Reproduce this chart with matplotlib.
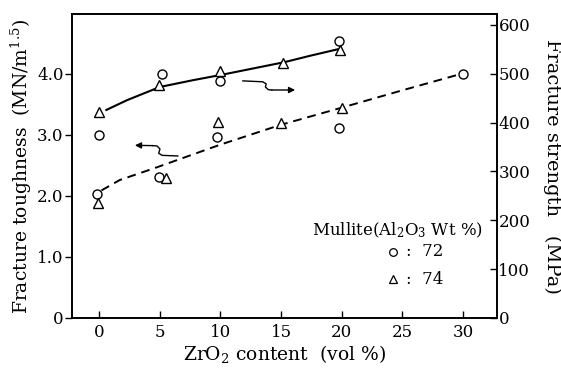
import matplotlib
matplotlib.use('Agg')
import matplotlib.pyplot as plt

plt.rcParams['font.family'] = 'DejaVu Serif'
plt.rcParams['mathtext.fontset'] = 'dejavuserif'

# fracture strength (MPa), right axis
x_str_72 = [0.0, 5.2, 10.0, 19.8]
str_72 = [375, 500, 485, 567]
x_str_74 = [0.0, 4.9, 10.0, 15.2, 19.9]
str_74 = [422, 477, 506, 522, 549]

# fracture toughness (MN/m^1.5), left axis
x_kic_72 = [-0.2, 4.9, 9.7, 19.8, 30.0]
kic_72 = [2.03, 2.31, 2.97, 3.11, 4.0]
x_kic_74 = [-0.1, 5.5, 9.8, 15.0, 20.0]
kic_74 = [1.89, 2.29, 3.21, 3.2, 3.44]

# drawn trend curves
x_fit_str = [0.6, 2.3, 5.0, 7.75, 10.1, 13.3, 15.3, 17.4, 19.8]
fit_str = [426, 446, 473, 487, 498, 514, 524, 537, 551]
x_fit_kic = [0.2, 1.7, 4.5, 10.0, 14.9, 19.9, 25.0, 29.5]
fit_kic = [2.09, 2.26, 2.45, 2.84, 3.16, 3.44, 3.73, 3.98]

fig = plt.figure(figsize=(5.61, 3.76), dpi=100)
ax = fig.add_axes([72/561, 58/376, 425/561, 304/376])
ax2 = ax.twinx()

ax.set_xlim(-2.23, 32.8)
ax.set_ylim(0, 4.98)
ax2.set_ylim(0, 622.5)

mk = dict(linestyle='none', markerfacecolor='white', markeredgecolor='black',
          markeredgewidth=1.0, markersize=6.5)

ax.plot(x_fit_kic, fit_kic, color='black', lw=1.4, dashes=(4.5, 3))
ax2.plot(x_fit_str, fit_str, color='black', lw=1.5)

ax.plot(x_kic_72, kic_72, marker='o', **mk)
ax.plot(x_kic_74, kic_74, marker='^', **mk)
ax2.plot(x_str_72, str_72, marker='o', **mk)
ax2.plot(x_str_74, str_74, marker='^', **mk)

# arrows pointing to the axes
def squiggle_arrow(pts, tip):
    xs = [p[0] for p in pts]
    ys = [p[1] for p in pts]
    ax.plot(xs, ys, color='black', lw=1.0, transform=ax.transAxes)
    ax.annotate('', xy=tip, xytext=pts[-1], xycoords='axes fraction',
                textcoords='axes fraction',
                arrowprops=dict(arrowstyle='-|>', color='black', lw=1.0,
                                mutation_scale=9, shrinkA=0, shrinkB=0))

squiggle_arrow([(0.402, 0.780), (0.449, 0.777), (0.457, 0.770), (0.455, 0.760),
                (0.462, 0.751), (0.47, 0.750)], (0.525, 0.750))
squiggle_arrow([(0.249, 0.533), (0.212, 0.535), (0.204, 0.542), (0.207, 0.556),
                (0.200, 0.566), (0.19, 0.567)], (0.148, 0.568))

ax.set_xticks([0, 5, 10, 15, 20, 25, 30])
ax.set_yticks([0, 1, 2, 3, 4])
ax.set_yticklabels(['0', '1.0', '2.0', '3.0', '4.0'])
ax2.set_yticks([0, 100, 200, 300, 400, 500, 600])

ax.tick_params(axis='x', direction='in', length=5, width=1, labelsize=12, pad=4)
ax.tick_params(axis='y', direction='out', length=5, width=1, labelsize=12, pad=1)
ax2.tick_params(axis='y', direction='in', length=5, width=1, labelsize=12, pad=1)
for a in (ax, ax2):
    for s in a.spines.values():
        s.set_linewidth(1.2)

ax.set_xlabel('ZrO$_2$ content  (vol %)', fontsize=13.5, labelpad=2)
ax.set_ylabel('Fracture toughness  (MN/m$^{1.5}$)', fontsize=13.5, labelpad=2)
ax2.set_ylabel('Fracture strength   (MPa)', fontsize=14, rotation=270, labelpad=22)

# legend block
ax.text(0.967, 0.290, 'Mullite(Al$_2$O$_3$ Wt %)', transform=ax.transAxes,
        ha='right', va='center', fontsize=12)
ax.plot([0.755], [0.218], marker='o', transform=ax.transAxes, clip_on=False,
        linestyle='none', markerfacecolor='white', markeredgecolor='black',
        markeredgewidth=0.9, markersize=5.5)
ax.plot([0.755], [0.128], marker='^', transform=ax.transAxes, clip_on=False,
        linestyle='none', markerfacecolor='white', markeredgecolor='black',
        markeredgewidth=0.9, markersize=5.5)
ax.text(0.785, 0.218, ':  72', transform=ax.transAxes, ha='left', va='center', fontsize=12)
ax.text(0.785, 0.128, ':  74', transform=ax.transAxes, ha='left', va='center', fontsize=12)

fig.savefig('out.png', dpi=100)
